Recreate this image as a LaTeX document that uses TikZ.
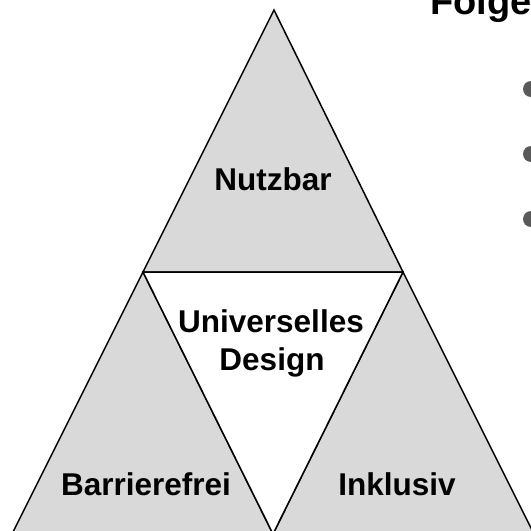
\documentclass[tikz,border=0pt]{standalone}
\usepackage{fontspec}
\setmainfont{Liberation Sans}
\definecolor{triGray}{HTML}{D9D9D9}
\definecolor{dotGray}{HTML}{595959}
\tikzset{
  part/.style={draw=black,line width=1.5pt,line join=miter},
  lbl/.style={font=\fontsize{31.5}{38}\selectfont\bfseries,text=black,inner sep=0pt,anchor=base,align=center}
}
\begin{document}
\begin{tikzpicture}[x=1pt,y=-1pt]
\useasboundingbox (0,0) rectangle (531,531);
\clip (0,0) rectangle (531,531);
\coordinate (apex) at (274,10); \coordinate (ml) at (143,272); \coordinate (mr) at (403,272);
\coordinate (bl) at (12,534); \coordinate (bm) at (273,534); \coordinate (br) at (534,534);
\draw[part,fill=triGray] (apex) -- (ml) -- (mr) -- cycle;
\draw[part,fill=triGray] (ml) -- (bl) -- (bm) -- cycle;
\draw[part,fill=triGray] (mr) -- (bm) -- (br) -- cycle;
\draw[part,fill=white] (ml) -- (mr) -- (bm) -- cycle;
\node[lbl] (nutz) at (273,190) {Nutzbar};
\node[lbl] (univ) at (271,332) {Universelles};
\node[lbl] (design) at (272,370) {Design};
\node[lbl] (barr) at (146,495) {Barrierefrei};
\node[lbl] (inkl) at (397,495) {Inklusiv};
\node[lbl,font=\fontsize{38}{44}\selectfont\bfseries,anchor=base west] (folge) at (430,14) {Folge};
\fill[dotGray] (531,89) circle (8); \fill[dotGray] (531,154) circle (8); \fill[dotGray] (531,219) circle (8);
\end{tikzpicture}
\end{document}
